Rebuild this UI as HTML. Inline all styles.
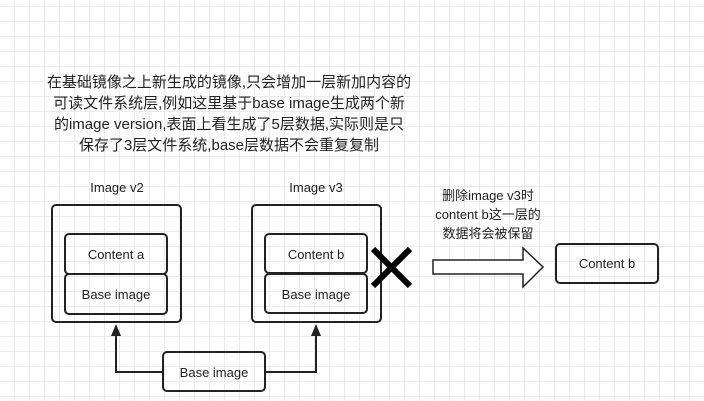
<!DOCTYPE html>
<html><head><meta charset="utf-8"><style>
html,body{margin:0;padding:0}
body{width:704px;height:401px;overflow:hidden;background:#fff;
background-image:linear-gradient(#ebebeb 1px,transparent 1px),linear-gradient(90deg,#ebebeb 1px,transparent 1px);
background-size:15px 15px;background-position:14px 6px;}
</style></head><body>
<svg width="704" height="401" viewBox="0 0 704 401" style="position:absolute;left:0;top:0" font-family="Liberation Sans, Noto Sans CJK SC, sans-serif" fill="none">
<g font-size="15" fill="#222" text-anchor="middle" stroke="none">
<text x="229" y="87">在基础镜像之上新生成的镜像,只会增加一层新加内容的</text>
<text x="229" y="108">可读文件系统层,例如这里基于base image生成两个新</text>
<text x="229" y="129">的image version,表面上看生成了5层数据,实际则是只</text>
<text x="229" y="150">保存了3层文件系统,base层数据不会重复复制</text>
</g>
<g font-size="13" fill="#222" text-anchor="middle" stroke="none">
<text x="117" y="192">Image v2</text>
<text x="316" y="192">Image v3</text>
<text x="488" y="200">删除image v3时</text>
<text x="488" y="219">content b这一层的</text>
<text x="488" y="238">数据将会被保留</text>
<text x="116" y="259">Content a</text>
<text x="116" y="299">Base image</text>
<text x="316" y="259">Content b</text>
<text x="316" y="299">Base image</text>
<text x="607" y="268">Content b</text>
<text x="214" y="377">Base image</text>
</g>
<g stroke="#222" stroke-width="2">
<rect x="52" y="205" width="129" height="117" rx="4"/>
<rect x="65" y="234" width="102" height="40" rx="4"/>
<rect x="65" y="274" width="102" height="40" rx="4"/>
<rect x="252" y="205" width="129" height="117" rx="4"/>
<rect x="265" y="234" width="102" height="39" rx="4"/>
<rect x="265" y="274" width="102" height="39" rx="4"/>
<rect x="556" y="244" width="102" height="39" rx="4"/>
<rect x="163" y="352" width="102" height="39" rx="4"/>
<polyline points="163,372 116,372 116,335"/>
<polyline points="265,372 316,372 316,335"/>
</g>
<polygon points="116,324 111,336 121,336" fill="#222"/>
<polygon points="316,324 311,336 321,336" fill="#222"/>
<g stroke="#000" stroke-width="6">
<line x1="373" y1="249" x2="410" y2="286"/>
<line x1="410" y1="249" x2="373" y2="286"/>
</g>
<polygon points="433,260 523,260 523,248 543,267 523,287 523,274 433,274" fill="#fff" stroke="#222" stroke-width="1.5"/>
</svg>
</body></html>
